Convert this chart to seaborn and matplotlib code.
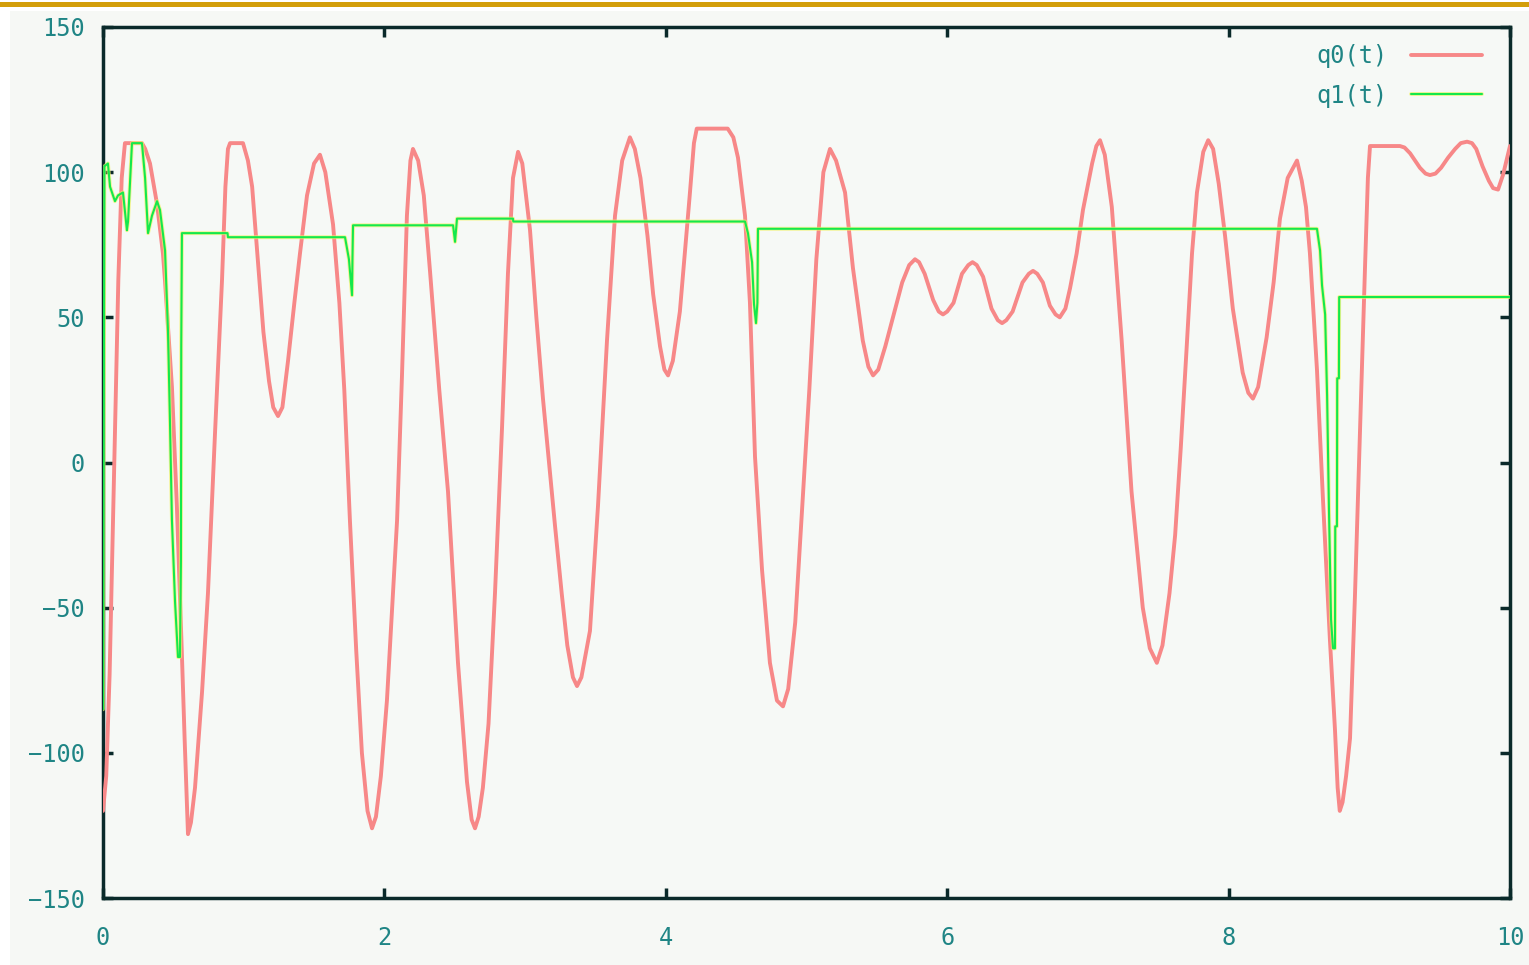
import numpy as np
import pandas as pd
import matplotlib
matplotlib.use("Agg")
import matplotlib.pyplot as plt
import matplotlib.patheffects as pe
from matplotlib.patches import Rectangle
import seaborn as sns

# q0(t) (peaks, troughs and the points between them)
q0_t = [0.00, 0.023, 0.047, 0.078, 0.109, 0.133, 0.156, 0.277,
        0.30, 0.334, 0.384, 0.426, 0.44, 0.49, 0.525, 0.56, 0.58, 0.604,
        0.625, 0.654, 0.704, 0.746, 0.796, 0.846, 0.870, 0.888, 0.903, 0.995,
        1.03, 1.06, 1.10, 1.14, 1.18, 1.21, 1.244,
        1.275, 1.315, 1.36, 1.40, 1.45, 1.50, 1.542,
        1.58, 1.635, 1.68, 1.715, 1.755, 1.80, 1.84, 1.88, 1.912,
        1.94, 1.975, 2.018, 2.055, 2.09, 2.125, 2.16, 2.185, 2.203,
        2.24, 2.28, 2.324, 2.39, 2.452, 2.523, 2.587, 2.62, 2.644,
        2.67, 2.70, 2.74, 2.786, 2.836, 2.878, 2.914, 2.95,
        2.98, 3.035, 3.08, 3.127, 3.17, 3.213, 3.26, 3.30, 3.34, 3.369,
        3.40, 3.461, 3.518, 3.582, 3.639, 3.69, 3.745,
        3.78, 3.82, 3.87, 3.91, 3.959, 3.99, 4.016,
        4.05, 4.10, 4.14, 4.17, 4.20, 4.22, 4.44,
        4.48, 4.513, 4.563, 4.598, 4.634, 4.684, 4.74, 4.79, 4.833,
        4.87, 4.92, 4.97, 5.02, 5.07, 5.12, 5.167,
        5.21, 5.274, 5.33, 5.40, 5.44, 5.473,
        5.51, 5.56, 5.62, 5.68, 5.73, 5.771,
        5.80, 5.84, 5.87, 5.90, 5.94, 5.97,
        6.00, 6.045, 6.075, 6.105, 6.15, 6.18,
        6.21, 6.255, 6.285, 6.315, 6.36, 6.39,
        6.42, 6.465, 6.50, 6.535, 6.58, 6.61,
        6.64, 6.68, 6.705, 6.73, 6.77, 6.80,
        6.84, 6.873, 6.92, 6.965, 7.03, 7.06, 7.086,
        7.12, 7.17, 7.24, 7.31, 7.39, 7.44, 7.49,
        7.53, 7.58, 7.62, 7.66, 7.70, 7.74, 7.775, 7.82, 7.855,
        7.89, 7.93, 7.975, 8.03, 8.10, 8.14, 8.173,
        8.21, 8.27, 8.32, 8.365, 8.42, 8.486,
        8.52, 8.55, 8.578, 8.628, 8.67, 8.72, 8.756, 8.775, 8.79,
        8.81, 8.835, 8.863, 8.898, 8.934, 8.97, 8.99, 9.005, 9.218,
        9.25, 9.29, 9.325, 9.36, 9.40, 9.431,
        9.47, 9.51, 9.56, 9.61, 9.65, 9.695,
        9.73, 9.76, 9.805, 9.85, 9.88, 9.915, 9.95, 10.0]
q0_v = [-120, -108, -73, -5, 63, 98, 110, 110,
        108, 103, 89, 72, 63, 26, -15, -65, -95, -128,
        -124, -112, -79, -45, 10, 63, 95, 108, 110, 110,
        104, 95, 70, 45, 28, 19, 16,
        19, 35, 55, 72, 92, 103, 106,
        100, 82, 55, 25, -20, -65, -100, -120, -126,
        -122, -108, -82, -50, -20, 30, 85, 104, 108,
        104, 92, 66, 25, -10, -69, -110, -123, -126,
        -122, -112, -90, -45, 12, 65, 98, 107,
        103, 80, 50, 22, 0, -22, -45, -63, -74, -77,
        -74, -58, -15, 42, 85, 104, 112,
        108, 98, 78, 58, 40, 32, 30,
        35, 52, 75, 92, 110, 115, 115,
        112, 105, 85, 55, 2, -37, -69, -82, -84,
        -78, -55, -15, 25, 70, 100, 108,
        104, 93, 67, 42, 33, 30,
        32, 40, 51, 62, 68, 70,
        69, 65, 60.5, 56, 52, 51,
        52, 55, 60, 65, 68, 69,
        68, 64, 58.5, 53, 49, 48,
        49, 52, 57, 62, 65, 66,
        65, 62, 58, 54, 51, 50,
        53, 60, 72, 87, 103, 109, 111,
        106, 88, 42, -10, -50, -64, -69,
        -63, -45, -25, 5, 38, 72, 93, 107, 111,
        108, 96, 78, 53, 31, 24, 22,
        26, 43, 62, 84, 98, 104,
        97, 88, 72, 32, -12, -61, -92, -112, -120,
        -117, -108, -95, -46, 11, 68, 98, 109, 109,
        108.5, 106.5, 104, 101.5, 99.5, 99,
        99.5, 101.5, 105, 108, 110, 110.5,
        110, 108, 102, 97, 94.5, 94, 99, 109]

# q1(t): mostly flat with sharp dips
q1_t = [0.00, 0.01, 0.035, 0.05, 0.085, 0.107, 0.142, 0.17, 0.178, 0.206, 0.277, 0.299,
        0.32, 0.348, 0.384, 0.405, 0.441, 0.462, 0.476, 0.490, 0.512, 0.533, 0.547,
        0.554, 0.556, 0.561, 0.885, 0.888, 1.720, 1.748, 1.770, 1.773, 1.777,
        2.488, 2.502, 2.516, 2.914, 2.916, 4.563, 4.584, 4.613, 4.627, 4.641, 4.651, 4.655,
        8.628, 8.650, 8.664, 8.686, 8.700, 8.714, 8.728, 8.742, 8.756, 8.758, 8.770,
        8.772, 8.784, 8.786, 10.0]
q1_v = [-85, 102, 103, 95, 90, 92, 93, 80, 83, 110, 110, 98,
        79, 85, 90, 87, 73, 45, 14, -20, -48, -67, -67,
        -34, 40, 79, 79, 77.6, 77.6, 70, 57.6, 70, 81.7,
        81.7, 76, 84, 84, 83, 83, 79, 69, 54.5, 48, 55, 80.5,
        80.5, 73, 61, 51, 23, -18, -54, -64, -64, -22, -22,
        29, 29, 57, 57]

df0 = pd.DataFrame({"t": q0_t, "v": q0_v})
df1 = pd.DataFrame({"t": q1_t, "v": q1_v})

sns.set_style("ticks")
plt.rcParams["font.family"] = ["DejaVu Sans Mono", "DejaVu Sans"]

label_col = "#1f8585"
frame_col = "#0a2a2a"

fig = plt.figure(figsize=(15.29, 9.65), dpi=100, facecolor="white")
# off-white page behind the plot, gold rule at the very top
fig.add_artist(Rectangle((10 / 1529, 0), 1, 1 - 11 / 965, transform=fig.transFigure,
                         facecolor="#f6f8f5", edgecolor="none", zorder=0))
fig.add_artist(Rectangle((0, 1 - 7 / 965), 1, 5 / 965, transform=fig.transFigure,
                         facecolor="#d39e0a", edgecolor="none", zorder=1))

ax = fig.add_axes([103 / 1529, 67 / 965, 1407 / 1529, 871 / 965])
ax.set_facecolor("#f6f9f6")

sns.lineplot(data=df0, x="t", y="v", ax=ax, sort=False, estimator=None,
             color="#f78888", linewidth=2.8, label="q0(t)", zorder=3)
sns.lineplot(data=df1, x="t", y="v", ax=ax, sort=False, estimator=None,
             color="#14e84c", linewidth=1.5, label="q1(t)", zorder=4,
             path_effects=[pe.Stroke(linewidth=2.8, foreground="#f2f26a", alpha=0.7), pe.Normal()])

ax.set_xlim(0, 10)
ax.set_ylim(-150, 150)
ax.set_xticks([0, 2, 4, 6, 8, 10])
ax.set_yticks([-150, -100, -50, 0, 50, 100, 150])
ax.set_xlabel("")
ax.set_ylabel("")
ax.tick_params(direction="in", length=7, width=2.5, color=frame_col,
               top=True, right=True, labelsize=17, labelcolor=label_col)
ax.tick_params(axis="x", pad=20)
ax.tick_params(axis="y", pad=13)
for s in ax.spines.values():
    s.set_visible(True)
    s.set_color(frame_col)
    s.set_linewidth(2.5)

leg = ax.legend(loc="upper right", frameon=False, markerfirst=False, fontsize=17,
                handlelength=3.0, handletextpad=1.0, labelspacing=0.65,
                borderaxespad=0.3, bbox_to_anchor=(0.992, 0.999))
for txt in leg.get_texts():
    txt.set_color(label_col)

fig.savefig("out.png", dpi=100, facecolor=fig.get_facecolor())
